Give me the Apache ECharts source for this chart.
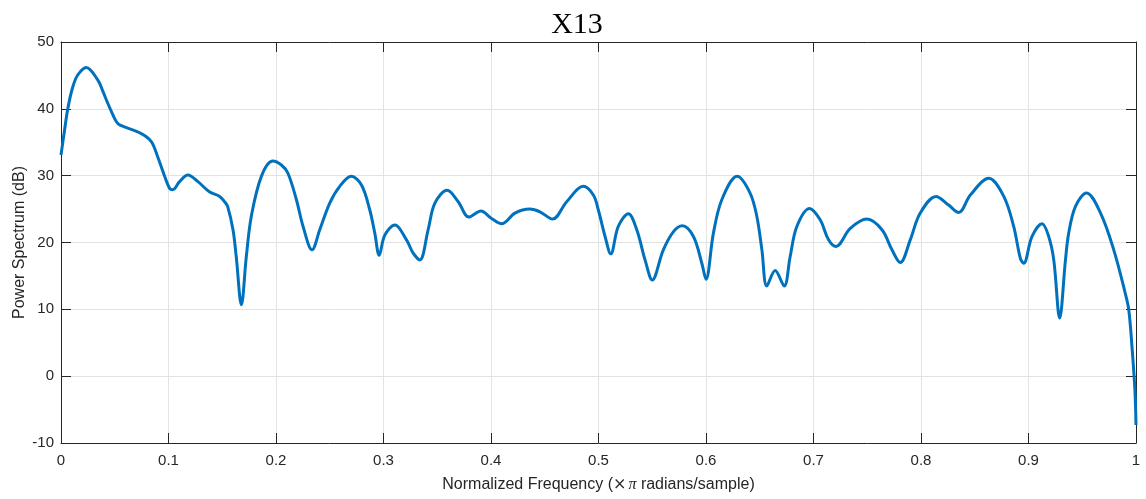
<!DOCTYPE html>
<html>
<head>
<meta charset="utf-8">
<title>X13</title>
<script src="https://cdn.jsdelivr.net/npm/echarts@6/dist/echarts.min.js"></script>
<style>
  html, body { margin: 0; padding: 0; background: #ffffff; }
  #chart { width: 1146px; height: 499px; }
</style>
</head>
<body>
<div id="chart"></div>
<script>
// Normalized frequency (x pi rad/sample) and power spectrum (dB)
const freq = [
  0.000, 0.0033, 0.0064, 0.011, 0.0157, 0.0235, 0.0343, 0.039, 0.0436, 0.0483,
  0.0514, 0.0545, 0.0747, 0.084, 0.090, 0.0964, 0.101, 0.104, 0.1103, 0.118,
  0.1274, 0.138, 0.1476, 0.1522, 0.155, 0.160, 0.163, 0.1678, 0.1724, 0.177,
  0.1864, 0.197, 0.205, 0.211, 0.219, 0.2252, 0.2335, 0.2407, 0.250, 0.2593,
  0.270, 0.2795, 0.2872, 0.2919, 0.296, 0.3012, 0.3105, 0.3214, 0.3276, 0.3338,
  0.3415, 0.3478, 0.3592, 0.3695, 0.3794, 0.3906, 0.4005, 0.410, 0.4223, 0.4362,
  0.4455, 0.4573, 0.4704, 0.4858, 0.4952, 0.4998, 0.5061, 0.5114, 0.5184, 0.5278,
  0.5356, 0.5433, 0.550, 0.5603, 0.5696, 0.578, 0.5883, 0.5961, 0.600, 0.6069,
  0.6147, 0.629, 0.641, 0.6473, 0.652, 0.6566, 0.6643, 0.6727, 0.6783, 0.6845,
  0.6963, 0.7062, 0.714, 0.7209, 0.7342, 0.7497, 0.7637, 0.773, 0.7807, 0.790,
  0.7993, 0.814, 0.8257, 0.835, 0.8459, 0.863, 0.877, 0.8862, 0.8925, 0.8955,
  0.9033, 0.9126, 0.9188, 0.9235, 0.929, 0.9344, 0.9374, 0.9437, 0.954, 0.967,
  0.9793, 0.990, 0.9933, 0.9965, 0.999, 1.000
];
const power = [
  33.1, 36.8, 40.1, 43.3, 45.1, 46.2, 44.3, 42.6, 40.8, 39.1,
  38.1, 37.6, 36.3, 35.1, 32.8, 29.9, 28.1, 27.9, 29.1, 30.1,
  29.1, 27.6, 26.9, 26.1, 25.4, 21.9, 17.9, 10.7, 17.9, 23.9,
  29.9, 32.2, 31.6, 30.4, 26.4, 22.4, 18.9, 21.9, 25.9, 28.4,
  29.9, 28.6, 24.9, 21.4, 18.1, 21.1, 22.6, 20.4, 18.4, 17.4,
  21.9, 25.9, 27.8, 26.1, 23.8, 24.7, 23.6, 22.8, 24.4, 25.0,
  24.6, 23.5, 26.1, 28.4, 27.1, 24.9, 20.9, 18.3, 22.4, 24.3,
  21.9, 17.4, 14.4, 18.9, 21.6, 22.5, 20.9, 16.9, 14.5, 21.4,
  26.4, 29.9, 27.4, 23.9, 18.9, 13.5, 15.8, 13.5, 17.9, 22.4,
  25.1, 23.4, 20.4, 19.4, 22.1, 23.5, 21.9, 18.9, 17.0, 20.4,
  24.4, 26.9, 25.6, 24.5, 27.1, 29.6, 26.9, 22.4, 17.6, 16.9,
  20.9, 22.8, 20.9, 17.4, 8.7, 17.4, 21.4, 25.4, 27.4, 24.4,
  18.9, 12.4, 9.9, 3.9, -2.1, -7.3
];
const xTicks = [0, 0.1, 0.2, 0.3, 0.4, 0.5, 0.6, 0.7, 0.8, 0.9, 1];
const yTicks = [-10, 0, 10, 20, 30, 40, 50];

const axisColor = '#262626';
const gridColor = '#e3e3e3';
const sans = 'Liberation Sans, Arial, sans-serif';
const tickFont = { color: axisColor, fontSize: 15, fontFamily: sans };
const nameFont = { color: axisColor, fontSize: 16, fontFamily: sans };

const chart = echarts.init(document.getElementById('chart'), null, { renderer: 'canvas' });

function fmt(v) { return String(Math.round(v * 10) / 10); }

const baseX = {
  type: 'value', min: 0, max: 1, interval: 0.1,
  axisLine: { show: true, onZero: false, lineStyle: { color: axisColor, width: 1 } },
  axisTick: { show: true, inside: true, length: 10, lineStyle: { color: axisColor, width: 1 } },
};
const baseY = {
  type: 'value', min: -10, max: 50, interval: 10,
  axisLine: { show: true, onZero: false, lineStyle: { color: axisColor, width: 1 } },
  axisTick: { show: true, inside: true, length: 10, lineStyle: { color: axisColor, width: 1 } },
};

chart.setOption({
  animation: false,
  backgroundColor: '#ffffff',
  title: {
    text: 'X13',
    left: 572, top: 5, textAlign: 'center',
    textStyle: { fontFamily: 'Liberation Serif, Times New Roman, serif', fontWeight: 'normal', fontSize: 30, color: '#000000' }
  },
  grid: { left: 61, right: 10, top: 42, bottom: 56, containLabel: false, outerBoundsMode: 'none' },
  xAxis: [
    Object.assign({}, baseX, {
      position: 'bottom',
      name: '{t|Normalized Frequency (}{m|×}{p|π}{t| radians/sample)}',
      nameLocation: 'middle', nameGap: 34, nameMoveOverlap: false,
      nameTextStyle: {
        rich: {
          t: nameFont,
          m: { fontSize: 16, color: axisColor, fontFamily: 'DejaVu Serif, serif', padding: [0, 2, 0, 0] },
          p: { fontSize: 16, color: axisColor, fontFamily: 'Liberation Serif, serif', fontStyle: 'italic' }
        }
      },
      axisLabel: Object.assign({}, tickFont, { margin: 10, formatter: v => xTicks.some(t => Math.abs(t - v) < 1e-9) ? fmt(v) : '' }),
      splitLine: { show: true, lineStyle: { color: gridColor, width: 1 } }
    }),
    Object.assign({}, baseX, {
      position: 'top',
      axisLabel: { show: false },
      splitLine: { show: false }
    })
  ],
  yAxis: [
    Object.assign({}, baseY, {
      position: 'left',
      name: 'Power Spectrum (dB)',
      nameLocation: 'middle', nameGap: 33, nameRotate: 90, nameMoveOverlap: false,
      nameTextStyle: nameFont,
      axisLabel: Object.assign({}, tickFont, { margin: 7, formatter: v => yTicks.includes(v) ? String(v) : '' }),
      splitLine: { show: true, lineStyle: { color: gridColor, width: 1 } }
    }),
    Object.assign({}, baseY, {
      position: 'right',
      axisLabel: { show: false },
      splitLine: { show: false }
    })
  ],
  series: [{
    type: 'line',
    xAxisIndex: 0, yAxisIndex: 0,
    data: freq.map((f, i) => [f, power[i]]),
    smooth: 0.35,
    showSymbol: false,
    lineStyle: { color: '#0072BD', width: 3 },
    itemStyle: { color: '#0072BD' },
    clip: false
  }]
});
</script>
</body>
</html>
